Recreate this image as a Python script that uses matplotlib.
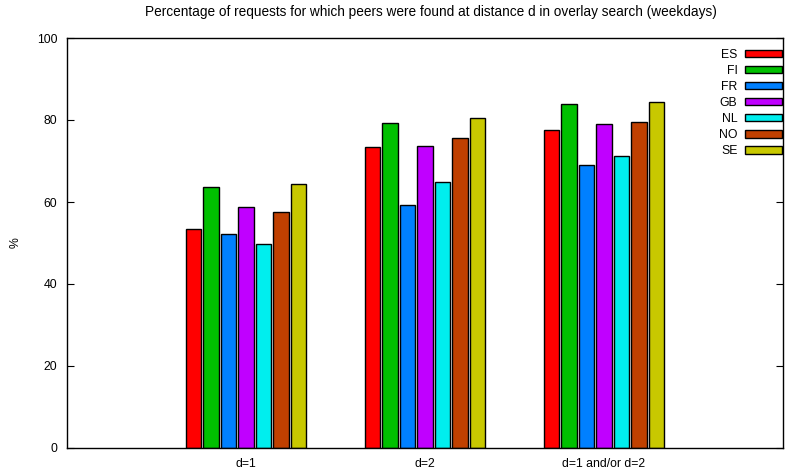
import matplotlib
matplotlib.use("Agg")
import matplotlib.pyplot as plt
import numpy as np

plt.rcParams['font.family'] = ['Liberation Sans', 'DejaVu Sans']

categories = ["d=1", "d=2", "d=1 and/or d=2"]
countries = ["ES", "FI", "FR", "GB", "NL", "NO", "SE"]
colors = ["#ff0000", "#00c000", "#0080ff", "#c000ff", "#00eeee", "#c04000", "#c8c800"]
values = {
    "ES": [53.3, 73.5, 77.6],
    "FI": [63.6, 79.2, 83.9],
    "FR": [52.2, 59.3, 69.0],
    "GB": [58.7, 73.6, 79.0],
    "NL": [49.8, 65.0, 71.1],
    "NO": [57.5, 75.6, 79.5],
    "SE": [64.3, 80.4, 84.3],
}

fig = plt.figure(figsize=(7.93, 4.70), dpi=100)
ax = fig.add_axes([67/793, 1-448/470, (783-67)/793, (448-38)/470])

x = np.arange(1, len(categories)+1)
pitch = 0.0975
width = 0.087
n = len(countries)
for i, (c, col) in enumerate(zip(countries, colors)):
    off = (i - (n-1)/2) * pitch
    ax.bar(x + off, values[c], width=width, color=col, edgecolor='black',
           linewidth=1.0, label=c)

ax.set_xlim(0, 4)
ax.set_ylim(0, 100)
ax.set_yticks([0, 20, 40, 60, 80, 100])
ax.set_xticks(x)
ax.set_xticklabels(categories)
ax.tick_params(axis='y', direction='in', length=5, right=True, labelsize=8.8, width=0.8, pad=7)
ax.tick_params(axis='x', length=0, labelsize=8.8, pad=7)
for s in ax.spines.values():
    s.set_linewidth(1.0)
ax.set_ylabel("%", fontsize=8.8, labelpad=11)
fig.text(431/793, 1-12/470,
         "Percentage of requests for which peers were found at distance d in overlay search (weekdays)",
         fontsize=9.8, ha='center', va='center')

leg = ax.legend(loc='upper right', frameon=False, markerfirst=False, fontsize=8.8,
                handlelength=3.0, handleheight=0.55, labelspacing=0.33,
                borderaxespad=0, borderpad=0, handletextpad=0.65,
                bbox_to_anchor=(1 - 1/716, 1 - 11/410))

fig.savefig("out.png", dpi=100)
